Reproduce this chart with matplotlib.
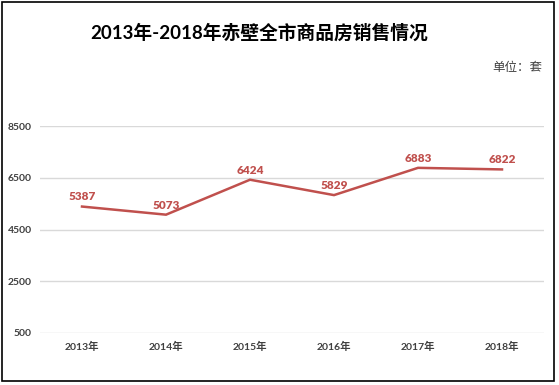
import matplotlib
matplotlib.use("Agg")
import matplotlib.pyplot as plt
from matplotlib.patches import Rectangle

plt.rcParams['font.family'] = ['Lato', 'Noto Sans CJK SC', 'DejaVu Sans']

years = ["2013年", "2014年", "2015年", "2016年", "2017年", "2018年"]
sales = [5387, 5073, 6424, 5829, 6883, 6822]
yticks = [500, 2500, 4500, 6500, 8500]

fig = plt.figure(figsize=(5.59, 3.85), dpi=100)
fig.patch.set_facecolor('white')
fig.patches.append(Rectangle((2/559, 4/385), 552/559, 379/385, transform=fig.transFigure,
                             fill=False, edgecolor='black', linewidth=1.2))

ax = fig.add_axes([40/559, 52/385, 504/559, 207/385])
x = list(range(len(years)))
red = '#C0504D'
ax.plot(x, sales, color=red, linewidth=1.8, solid_joinstyle='miter')
for xi, v in zip(x, sales):
    ax.annotate(str(v), (xi, v), xytext=(0, 3), textcoords='offset points',
                ha='center', va='bottom', color=red, fontsize=8.5, fontweight='heavy')

ax.set_xlim(-0.5, len(years) - 0.5)
ax.set_ylim(500, 8500)
ax.set_yticks(yticks)
ax.set_yticklabels([str(t) for t in yticks])
ax.set_xticks(x)
ax.set_xticklabels(years)
ax.grid(axis='y', color='#D9D9D9', linewidth=1)
ax.set_axisbelow(True)
for s in ax.spines.values():
    s.set_visible(False)
ax.tick_params(axis='both', length=0, labelsize=7.5, colors='#404040')
ax.tick_params(axis='x', pad=6)
ax.tick_params(axis='y', pad=6)
for lab in ax.get_yticklabels() + ax.get_xticklabels():
    lab.set_fontweight('bold')

fig.text(259/559, 1 - 32/385, "2013年-2018年赤壁全市商品房销售情况", ha='center', va='center',
         fontsize=13.5, fontweight='bold', color='black')
fig.text(517/559, 1 - 67/385, "单位：套", ha='center', va='center', fontsize=9, color='#404040')

fig.savefig('out.png', dpi=100)
